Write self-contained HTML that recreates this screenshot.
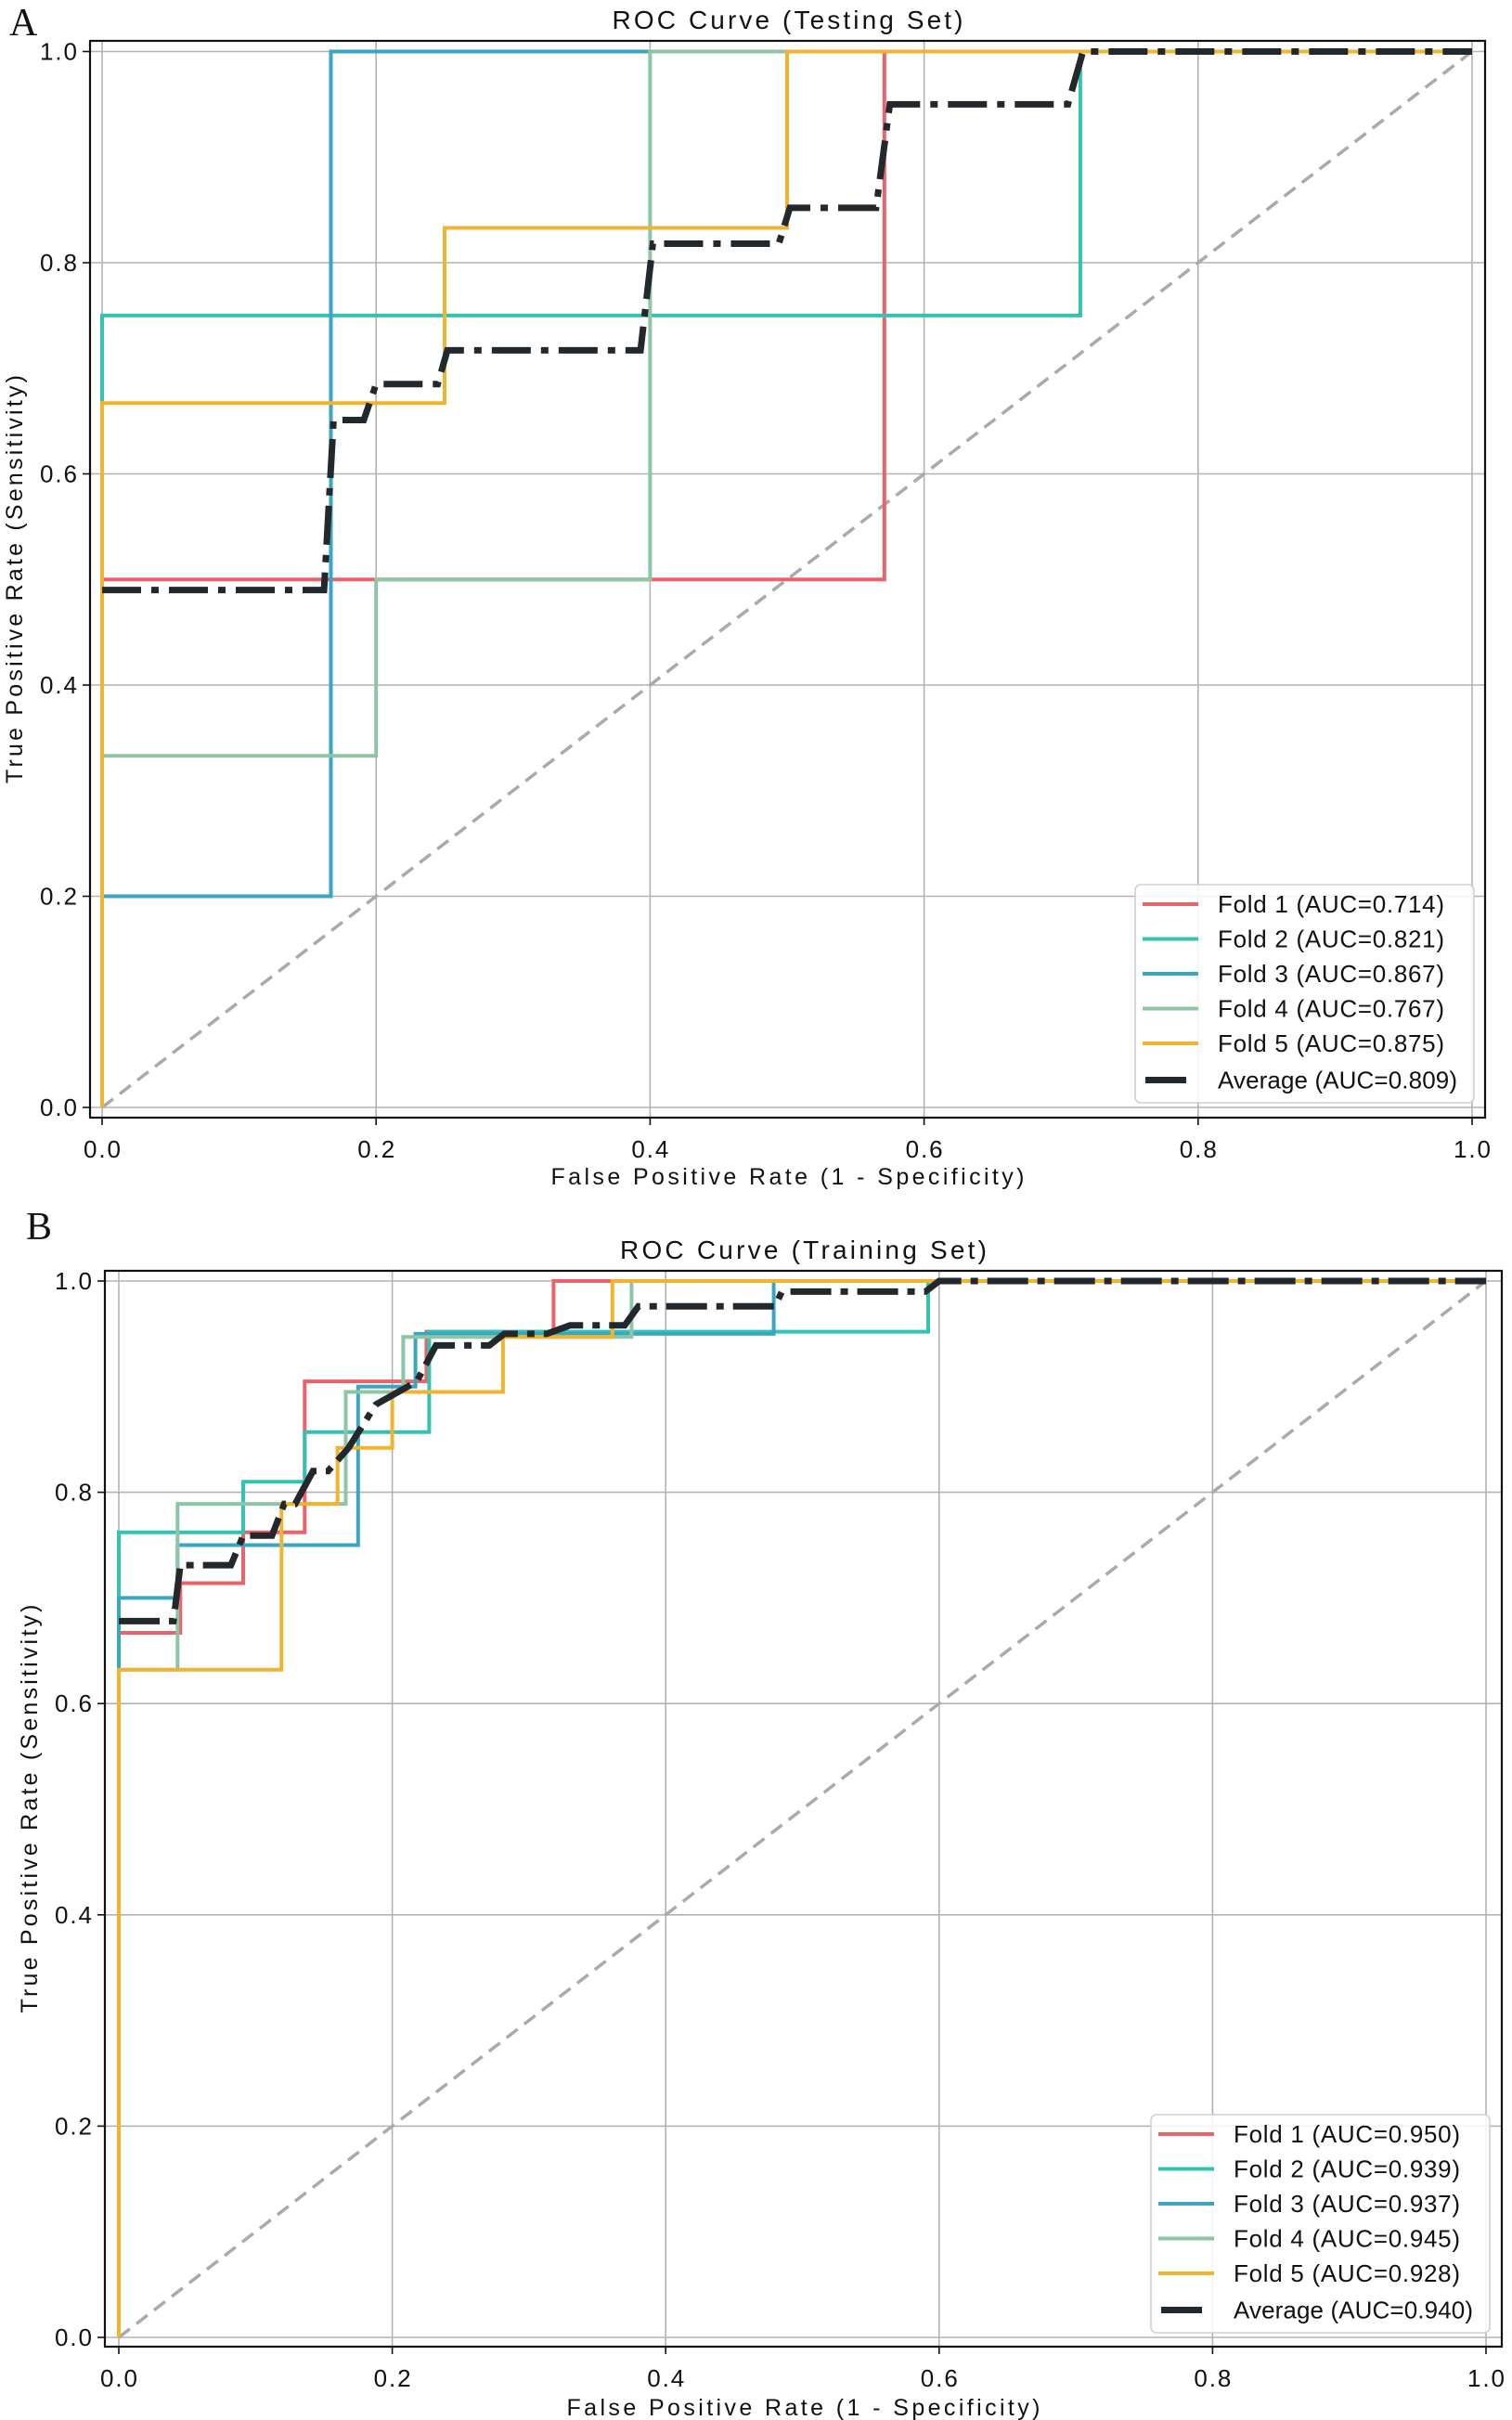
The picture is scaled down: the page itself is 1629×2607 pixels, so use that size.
<!DOCTYPE html>
<html><head><meta charset="utf-8"><style>html,body{margin:0;padding:0;background:#fff}svg{display:block}</style></head>
<body>
<svg id="fig" xmlns="http://www.w3.org/2000/svg" width="1629" height="2607" viewBox="0 0 1629 2607" font-family="'Liberation Sans', 'Noto Sans CJK SC', sans-serif"></svg>
<script>
const tickValues = [0, 0.2, 0.4, 0.6, 0.8, 1.0];
const tickLabels = ["0.0", "0.2", "0.4", "0.6", "0.8", "1.0"];
const foldColors = ["#e8646c", "#34c3b2", "#3aa6c2", "#8dc6a6", "#f0b431"];
// Panel A (Testing)
const A_f1_fpr = [0, 0, 0.571, 0.571, 1];
const A_f1_tpr = [0, 0.5, 0.5, 1, 1];
const A_f2_fpr = [0, 0, 0.714, 0.714, 1];
const A_f2_tpr = [0, 0.75, 0.75, 1, 1];
const A_f3_fpr = [0, 0, 0.167, 0.167, 1];
const A_f3_tpr = [0, 0.2, 0.2, 1, 1];
const A_f4_fpr = [0, 0, 0.2, 0.2, 0.4, 0.4, 1];
const A_f4_tpr = [0, 0.333, 0.333, 0.5, 0.5, 1, 1];
const A_f5_fpr = [0, 0, 0.25, 0.25, 0.5, 0.5, 1];
const A_f5_tpr = [0, 0.667, 0.667, 0.833, 0.833, 1, 1];
const A_avg_fpr = [0, 0.162, 0.169, 0.191, 0.2, 0.245, 0.252, 0.393, 0.402, 0.494, 0.502, 0.565, 0.575, 0.705, 0.716, 1];
const A_avg_tpr = [0.49, 0.49, 0.651, 0.651, 0.685, 0.685, 0.717, 0.717, 0.818, 0.818, 0.852, 0.852, 0.95, 0.95, 1, 1];
const A_auc = ["0.714", "0.821", "0.867", "0.767", "0.875", "0.809"];
// Panel B (Training)
const B_f1_fpr = [0, 0, 0.045, 0.045, 0.091, 0.091, 0.136, 0.136, 0.225, 0.225, 0.318, 0.318, 1];
const B_f1_tpr = [0, 0.667, 0.667, 0.714, 0.714, 0.762, 0.762, 0.905, 0.905, 0.952, 0.952, 1, 1];
const B_f2_fpr = [0, 0, 0.091, 0.091, 0.136, 0.136, 0.227, 0.227, 0.592, 0.592, 1];
const B_f2_tpr = [0, 0.762, 0.762, 0.810, 0.810, 0.857, 0.857, 0.952, 0.952, 1, 1];
const B_f3_fpr = [0, 0, 0.043, 0.043, 0.175, 0.175, 0.217, 0.217, 0.479, 0.479, 1];
const B_f3_tpr = [0, 0.7, 0.7, 0.75, 0.75, 0.9, 0.9, 0.95, 0.95, 1, 1];
const B_f4_fpr = [0, 0, 0.043, 0.043, 0.166, 0.166, 0.208, 0.208, 0.375, 0.375, 1];
const B_f4_tpr = [0, 0.632, 0.632, 0.789, 0.789, 0.895, 0.895, 0.947, 0.947, 1, 1];
const B_f5_fpr = [0, 0, 0.119, 0.119, 0.160, 0.160, 0.2, 0.2, 0.281, 0.281, 0.361, 0.361, 1];
const B_f5_tpr = [0, 0.632, 0.632, 0.789, 0.789, 0.842, 0.842, 0.895, 0.895, 0.947, 0.947, 1, 1];
const B_avg_fpr = [0, 0.04, 0.045, 0.082, 0.091, 0.112, 0.121, 0.129, 0.142, 0.153, 0.168, 0.188, 0.218, 0.232, 0.271, 0.282, 0.313, 0.33, 0.37, 0.38, 0.48, 0.485, 0.59, 0.6, 1];
const B_avg_tpr = [0.678, 0.678, 0.731, 0.731, 0.759, 0.759, 0.789, 0.789, 0.820, 0.820, 0.842, 0.883, 0.905, 0.939, 0.939, 0.950, 0.950, 0.958, 0.958, 0.976, 0.976, 0.99, 0.99, 1, 1];
const B_auc = ["0.950", "0.939", "0.937", "0.945", "0.928", "0.940"];

const NS = "http://www.w3.org/2000/svg";
const svg = document.getElementById("fig");
function mk(tag, attrs, parent) {
  const e = document.createElementNS(NS, tag);
  for (const k in attrs) e.setAttribute(k, attrs[k]);
  (parent || svg).appendChild(e);
  return e;
}

function panel(p) {
  const g = mk("g", {});
  
  
  const sx = v => p.x0 + (p.x1 - p.x0) * v;
  const sy = v => p.y0 + (p.y1 - p.y0) * v;
  tickValues.forEach((v, i) => {
    const gx = mk("line", {x1: sx(v), x2: sx(v), y1: p.ft, y2: p.fb, stroke: "#b3b3b3", "stroke-width": 1.6}, g);
    
    
    const gy = mk("line", {x1: p.fl, x2: p.fr, y1: sy(v), y2: sy(v), stroke: "#b3b3b3", "stroke-width": 1.6}, g);
    
    
    const tx = mk("line", {x1: sx(v), x2: sx(v), y1: p.fb, y2: p.fb + 8, stroke: "#111", "stroke-width": 1.6}, g);
    
    
    const ty = mk("line", {x1: p.fl - 8, x2: p.fl, y1: sy(v), y2: sy(v), stroke: "#111", "stroke-width": 1.6}, g);
    
    
    const lx = mk("text", {x: sx(v), y: p.fb + 43, "text-anchor": "middle", "font-size": 26, fill: "#111", textLength: 40}, g);
    lx.textContent = tickLabels[i];
    
    
    const ly = mk("text", {x: p.fl - 14, y: sy(v) + 9, "text-anchor": "end", "font-size": 26, fill: "#111", textLength: 40}, g);
    ly.textContent = tickLabels[i];
    
    
  });
  const d = mk("line", {x1: sx(0), y1: sy(0), x2: sx(1), y2: sy(1), stroke: "#aaaaaa", "stroke-width": 3.5, "stroke-dasharray": "15 9"}, g);
  
  
  p.folds.forEach((f, i) => {
    const pts = f[0].map((v, j) => sx(v).toFixed(1) + "," + sy(f[1][j]).toFixed(1)).join(" ");
    const pl = mk("polyline", {points: pts, fill: "none", stroke: foldColors[i], "stroke-width": 4, "stroke-linejoin": "miter"}, g);
    
    
  });
  const apts = p.avg[0].map((v, j) => sx(v).toFixed(1) + "," + sy(p.avg[1][j]).toFixed(1)).join(" ");
  const av = mk("polyline", {points: apts, fill: "none", stroke: "#23282d", "stroke-width": 7, "stroke-dasharray": p.dash}, g);
  
  
  const fr = mk("rect", {x: p.fl, y: p.ft, width: p.fr - p.fl, height: p.fb - p.ft, fill: "none", stroke: "#111", "stroke-width": 2.2}, g);
  
  
  const t = mk("text", {x: (p.fl + p.fr) / 2, y: p.ft - 13, "text-anchor": "middle", "font-size": 28, fill: "#111", textLength: p.titleLen}, g);
  t.textContent = p.title;
  
  
  const xl = mk("text", {x: (p.fl + p.fr) / 2, y: p.xlY, "text-anchor": "middle", "font-size": 25, fill: "#111", textLength: 510}, g);
  xl.textContent = "False Positive Rate (1 - Specificity)";
  
  
  const yc = (p.ft + p.fb) / 2;
  const yl = mk("text", {x: p.ylX, y: yc, "text-anchor": "middle", "font-size": 25, fill: "#111", textLength: 440, transform: "rotate(-90 " + p.ylX + " " + yc + ")"}, g);
  yl.textContent = "True Positive Rate (Sensitivity)";
  
  
  const pl = mk("text", {x: p.letX, y: p.letY, "font-size": 42, fill: "#111", "font-family": "'Liberation Serif', serif"}, g);
  pl.textContent = p.id;
  
  
  const lg = mk("g", {}, g);
  
  
  mk("rect", {x: p.lx, y: p.ly, width: 365, height: 235, rx: 6, fill: "rgba(255,255,255,0.85)", stroke: "#d0d0d0", "stroke-width": 1.6}, lg);
  for (let i = 0; i < 6; i++) {
    const yy = p.ly + 21 + i * 37.5 + (i === 5 ? 2 : 0);
    const e = mk("g", {}, lg);
    
    
    if (i < 5) mk("line", {x1: p.lx + 8, x2: p.lx + 68, y1: yy, y2: yy, stroke: foldColors[i], "stroke-width": 4}, e);
    else mk("line", {x1: p.lx + 11, x2: p.lx + 55, y1: yy, y2: yy, stroke: "#23282d", "stroke-width": 7}, e);
    const tx = mk("text", {x: p.lx + 89, y: yy + 9, "font-size": 26, fill: "#111", textLength: i < 5 ? 244 : 258}, e);
    tx.textContent = (i < 5 ? "Fold " + (i + 1) + " " : "Average ") + "(AUC=" + p.auc[i] + ")";
  }
}

panel({id: "A", title: "ROC Curve (Testing Set)", titleLen: 378, x0: 110, x1: 1586, y0: 1193, y1: 55.5,
  fl: 97, fr: 1600, ft: 44, fb: 1204, xlY: 1276, ylX: 24, letX: 10, letY: 38, lx: 1223, ly: 953, dash: "42 11 8 11",
  folds: [[A_f1_fpr, A_f1_tpr], [A_f2_fpr, A_f2_tpr], [A_f3_fpr, A_f3_tpr], [A_f4_fpr, A_f4_tpr], [A_f5_fpr, A_f5_tpr]],
  avg: [A_avg_fpr, A_avg_tpr], auc: A_auc});
panel({id: "B", title: "ROC Curve (Training Set)", titleLen: 395, x0: 128, x1: 1601, y0: 2518, y1: 1380,
  fl: 113, fr: 1618, ft: 1369, fb: 2528, xlY: 2602, ylX: 40, letX: 28, letY: 1335, lx: 1240, ly: 2278, dash: "44 10 8 10",
  folds: [[B_f1_fpr, B_f1_tpr], [B_f2_fpr, B_f2_tpr], [B_f3_fpr, B_f3_tpr], [B_f4_fpr, B_f4_tpr], [B_f5_fpr, B_f5_tpr]],
  avg: [B_avg_fpr, B_avg_tpr], auc: B_auc});
</script>
</body></html>
